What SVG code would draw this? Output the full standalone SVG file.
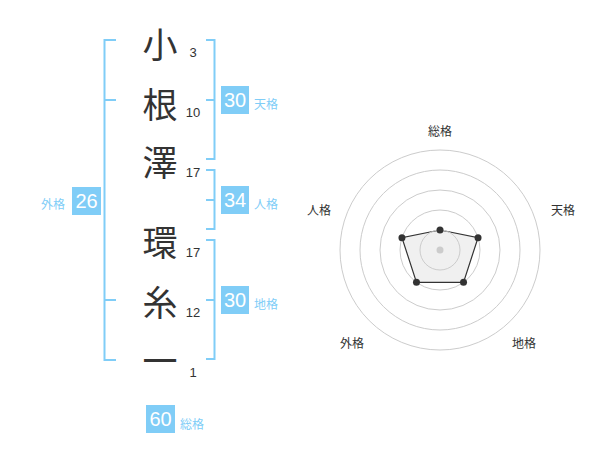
<svg xmlns="http://www.w3.org/2000/svg" width="600" height="470" viewBox="0 0 600 470">
<style>
.kanji{font-family:"Noto Sans CJK JP","Noto Sans CJK SC",sans-serif;font-size:35px;fill:#333;text-anchor:middle;dominant-baseline:central}
.num{font-family:"Liberation Sans",Arial,sans-serif;font-size:13px;fill:#333;text-anchor:middle}
.br{fill:none;stroke:#80cdf7;stroke-width:2}
.box{fill:#80cdf7}
.bnum{font-family:"Liberation Sans",Arial,sans-serif;font-size:20px;fill:#fff;text-anchor:middle;dominant-baseline:central}
.lab{font-family:"Noto Sans CJK JP","Noto Sans CJK SC",sans-serif;font-size:12px;fill:#80cdf7;dominant-baseline:central}
.ring{fill:none;stroke:#ccc;stroke-width:1}
.rlab{font-family:"Noto Sans CJK JP","Noto Sans CJK SC",sans-serif;font-size:12px;fill:#333;text-anchor:middle;dominant-baseline:central}
.dot{fill:#333}
</style>
<g id="chars">
<g id="c1"><text class="kanji" x="160" y="42">小</text><text class="num" x="193" y="57">3</text></g>
<g id="c2"><text class="kanji" x="160" y="102">根</text><text class="num" x="193" y="117">10</text></g>
<g id="c3"><text class="kanji" x="160" y="160">澤</text><text class="num" x="193" y="177">17</text></g>
<g id="c4"><text class="kanji" x="160" y="240">環</text><text class="num" x="193" y="257">17</text></g>
<g id="c5"><text class="kanji" x="160" y="300">糸</text><text class="num" x="193" y="317">12</text></g>
<g id="c6"><text class="kanji" x="160" y="358">一</text><text class="num" x="193" y="377">1</text></g>
</g>
<g id="connectors">
<path class="br" d="M116 40H104.5V360H116M104.5 100H116M104.5 300H116"/>
<path class="br" d="M206 40H214.5V159H206M214.5 100H206"/>
<path class="br" d="M206 170H214.5V229H206M214.5 200H206"/>
<path class="br" d="M206 240H214.5V359H206M214.5 300H206"/>
</g>
<g id="tenkaku"><rect class="box" x="221" y="86" width="28" height="28"/><text class="bnum" x="235" y="100">30</text><text class="lab" x="254" y="103">天格</text></g>
<g id="jinkaku"><rect class="box" x="221" y="186" width="28" height="28"/><text class="bnum" x="235" y="200">34</text><text class="lab" x="254" y="203">人格</text></g>
<g id="chikaku"><rect class="box" x="221" y="286" width="28" height="28"/><text class="bnum" x="235" y="300">30</text><text class="lab" x="254" y="303">地格</text></g>
<g id="gaikaku"><rect class="box" x="72" y="187" width="29" height="28"/><text class="bnum" x="86.5" y="201">26</text><text class="lab" x="41" y="203">外格</text></g>
<g id="soukaku"><rect class="box" x="146" y="405" width="29" height="28"/><text class="bnum" x="160.5" y="419">60</text><text class="lab" x="180" y="423">総格</text></g>
<g id="radar">
<circle class="ring" cx="440" cy="250" r="100"/>
<circle class="ring" cx="440" cy="250" r="80"/>
<circle class="ring" cx="440" cy="250" r="60"/>
<circle class="ring" cx="440" cy="250" r="40"/>
<polygon points="440,230 478.04,237.64 463.51,282.36 416.49,282.36 401.96,237.64" fill="#e6e6e6" fill-opacity="0.6" stroke="#333" stroke-width="1.2"/>
<circle class="ring" cx="440" cy="250" r="20"/>
<circle cx="440" cy="250" r="3.5" fill="#ccc"/>
<circle class="dot" cx="440" cy="230" r="3.5"/>
<circle class="dot" cx="478.04" cy="237.64" r="3.5"/>
<circle class="dot" cx="463.51" cy="282.36" r="3.5"/>
<circle class="dot" cx="416.49" cy="282.36" r="3.5"/>
<circle class="dot" cx="401.96" cy="237.64" r="3.5"/>
<text class="rlab" x="440" y="130">総格</text>
<text class="rlab" x="563" y="209">天格</text>
<text class="rlab" x="524" y="342">地格</text>
<text class="rlab" x="352" y="342">外格</text>
<text class="rlab" x="319" y="209">人格</text>
</g>
</svg>
